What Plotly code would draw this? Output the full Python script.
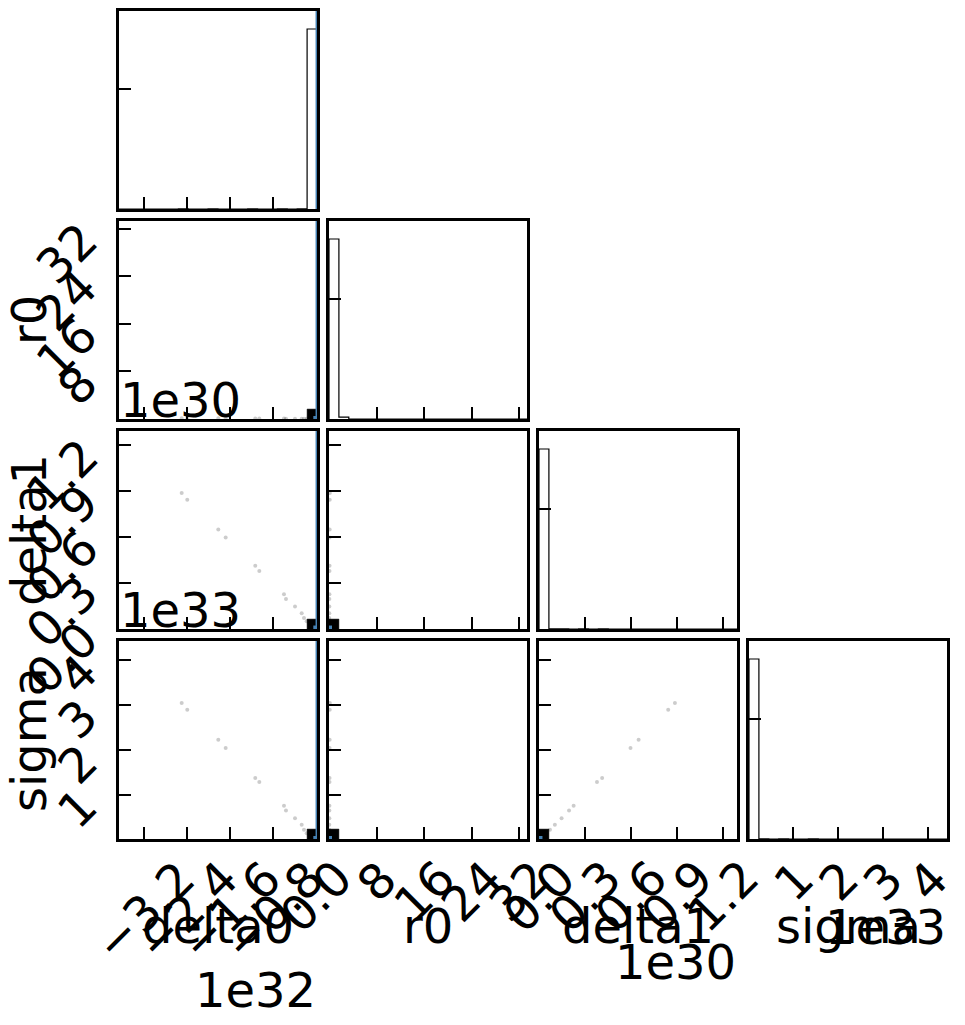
import numpy as np
import plotly.graph_objects as go

# ---------------- data (values in units of the axis offset) ----------------
labels = ["delta0", "r0", "delta1", "sigma"]
offset_text = ["1e32", "", "1e30", "1e33"]

ranges = [[-3.67, 0.013], [0.0, 33.3], [-0.003, 1.295], [0.015, 4.43]]

tick_vals = [[-3.2, -2.4, -1.6, -0.8, 0.0],
             [8, 16, 24, 32],
             [0.0, 0.3, 0.6, 0.9, 1.2],
             [1, 2, 3, 4]]
tick_text = [["−3.2", "−2.4", "−1.6", "−0.8", "0.0"],
             ["8", "16", "24", "32"],
             ["0.0", "0.3", "0.6", "0.9", "1.2"],
             ["1", "2", "3", "4"]]

# outlying samples visible as faint points
delta0_pts = [-2.504, -2.400, -1.823, -1.686, -1.135, -1.060, -0.601, -0.564, -0.396, -0.272, -0.229, -0.179]
r0_pts     = [0.14, 0.12, 0.11, 0.10, 0.09, 0.08, 0.07, 0.06, 0.06, 0.05, 0.04, 0.04]
delta1_pts = [0.888, 0.844, 0.650, 0.597, 0.411, 0.377, 0.224, 0.194, 0.145, 0.101, 0.069, 0.048]
sigma_pts  = [3.049, 2.899, 2.229, 2.044, 1.374, 1.284, 0.755, 0.650, 0.480, 0.331, 0.219, 0.145]

truths = [0.0, 0.0, 0.0, 0.015]
show_truth_line = [True, False, False, False]   # the others sit under the spines

# 1D histogram counts (20 bins over each range)
delta0_counts = [0, 0, 0, 0, 0, 0, 1, 0, 0, 1, 0, 0, 0, 1, 0, 0, 1, 0, 2, 1500]
r0_counts     = [1500, 15, 0, 0, 0, 0, 0, 0, 0, 0, 0, 0, 0, 0, 0, 0, 0, 0, 0, 0]
delta1_counts = [1500, 2, 1, 0, 1, 0, 1, 0, 0, 0, 0, 0, 0, 0, 0, 0, 0, 0, 0, 0]
sigma_counts  = [1500, 1, 0, 1, 0, 0, 1, 0, 0, 0, 0, 0, 0, 0, 0, 0, 0, 0, 0, 0]
hist_tick = [1000]

# bin index holding nearly all samples (filled black in 2D panels)
mode_bins = [19, 0, 0, 0]

samples = [delta0_pts, r0_pts, delta1_pts, sigma_pts]
counts = [delta0_counts, r0_counts, delta1_counts, sigma_counts]

# ---------------- layout helpers ----------------
OFF = 8                      # page body margin
W, H = 965 - 2 * OFF, 1025 - 2 * OFF
K = 4
LEFT, TOP, SIZE, STEP = 119, 11, 198, 210     # in reference pixels
FONT = "DejaVu Sans"
TICK_FS = 48
LAB_FS = 48
BLUE = "#4682b4"


def fx(p):      # reference x pixel -> paper
    return (p - OFF) / W


def fy(p):      # reference y pixel -> paper
    return 1 - (p - OFF) / H


def px_left(j):
    return LEFT + j * STEP


def px_top(i):
    return TOP + i * STEP


def xdom(j):
    return [fx(px_left(j)), fx(px_left(j) + SIZE)]


def ydom(i):
    return [fy(px_top(i) + SIZE), fy(px_top(i))]


def edges(k):
    return np.linspace(ranges[k][0], ranges[k][1], len(counts[k]) + 1)


fig = go.Figure()
layout = dict(width=W, height=H, margin=dict(l=0, r=0, t=0, b=0),
              paper_bgcolor="white", plot_bgcolor="white", showlegend=False)
annotations = []

axis_style = dict(showline=True, mirror=True, linewidth=2.5, linecolor="black",
                  ticks="inside", ticklen=12, tickwidth=1.6, tickcolor="black",
                  showticklabels=False, showgrid=False, zeroline=False, fixedrange=True)


def txt(size):
    return dict(family=FONT, size=size, color="black")


for i in range(K):
    for j in range(i + 1):
        n = i * K + j + 1
        xa = "x" if n == 1 else f"x{n}"
        ya = "y" if n == 1 else f"y{n}"
        xkey = "xaxis" if n == 1 else f"xaxis{n}"
        ykey = "yaxis" if n == 1 else f"yaxis{n}"
        layout[xkey] = dict(domain=xdom(j), range=ranges[j], tickvals=tick_vals[j],
                            anchor=ya, **axis_style)
        if i == j:
            e = edges(j)
            c = counts[j]
            ymax = 1.1 * max(c)
            layout[ykey] = dict(domain=ydom(i), range=[0, ymax], tickvals=hist_tick,
                                anchor=xa, **axis_style)
            xs = np.concatenate([[e[0]], e[:-1], [e[-1], e[-1]]])
            ys = np.concatenate([[0], c, [c[-1], 0]])
            fig.add_trace(go.Scatter(x=xs, y=ys, mode="lines",
                                     line=dict(color="black", width=1.2, shape="hv"),
                                     xaxis=xa, yaxis=ya, hoverinfo="skip"))
            if show_truth_line[j]:
                fig.add_trace(go.Scatter(x=[truths[j], truths[j]], y=[0, ymax], mode="lines",
                                         line=dict(color=BLUE, width=1.5), xaxis=xa, yaxis=ya,
                                         hoverinfo="skip"))
        else:
            layout[ykey] = dict(domain=ydom(i), range=ranges[i], tickvals=tick_vals[i],
                                anchor=xa, **axis_style)
            fig.add_trace(go.Scatter(x=samples[j], y=samples[i], mode="markers",
                                     marker=dict(size=4, color="rgba(0,0,0,0.2)"),
                                     xaxis=xa, yaxis=ya, hoverinfo="skip"))
            ex, ey = edges(j), edges(i)
            bx, by = mode_bins[j], mode_bins[i]
            fig.add_trace(go.Scatter(x=[ex[bx], ex[bx + 1], ex[bx + 1], ex[bx], ex[bx]],
                                     y=[ey[by], ey[by], ey[by + 1], ey[by + 1], ey[by]],
                                     mode="lines", fill="toself", fillcolor="black",
                                     line=dict(color="black", width=0.5), xaxis=xa, yaxis=ya,
                                     hoverinfo="skip"))
            if show_truth_line[j]:
                fig.add_trace(go.Scatter(x=[truths[j], truths[j]], y=ranges[i], mode="lines",
                                         line=dict(color=BLUE, width=1.5), xaxis=xa, yaxis=ya,
                                         hoverinfo="skip"))
            if show_truth_line[i]:
                fig.add_trace(go.Scatter(x=ranges[j], y=[truths[i], truths[i]], mode="lines",
                                         line=dict(color=BLUE, width=1.5), xaxis=xa, yaxis=ya,
                                         hoverinfo="skip"))
            fig.add_trace(go.Scatter(x=[truths[j]], y=[truths[i]], mode="markers",
                                     marker=dict(symbol="square", size=6, color=BLUE),
                                     xaxis=xa, yaxis=ya, hoverinfo="skip"))

        # x tick labels + x labels on the bottom row
        if i == K - 1:
            for v, t in zip(tick_vals[j], tick_text[j]):
                annotations.append(dict(x=v, xref=xa, y=ydom(i)[0], yref="paper",
                                        xanchor="center", yanchor="top", yshift=-8,
                                        text=t, textangle=-45, showarrow=False, font=txt(TICK_FS)))
            annotations.append(dict(x=fx(px_left(j) + SIZE / 2), xref="paper",
                                    y=fy(px_top(i) + SIZE + 57), yref="paper",
                                    xanchor="center", yanchor="top", text=labels[j],
                                    showarrow=False, font=txt(LAB_FS)))
        # y tick labels + y labels on the left column
        if j == 0 and i > 0:
            for v, t in zip(tick_vals[i], tick_text[i]):
                annotations.append(dict(x=xdom(0)[0], xref="paper", y=v, yref=ya,
                                        xanchor="right", yanchor="top", xshift=-8, yshift=20,
                                        text=t, textangle=-45, showarrow=False, font=txt(TICK_FS)))
            annotations.append(dict(x=fx(59), xref="paper",
                                    y=fy(px_top(i) + SIZE / 2), yref="paper",
                                    xanchor="right", yanchor="middle", text=labels[i], textangle=-90,
                                    showarrow=False, font=txt(LAB_FS)))
            if offset_text[i]:
                annotations.append(dict(x=fx(LEFT - 1), xref="paper", y=fy(px_top(i) - 1), yref="paper",
                                        xanchor="left", yanchor="bottom", text=offset_text[i],
                                        showarrow=False, font=txt(LAB_FS)))

# x offset texts below the bottom-row tick labels
x_offset_top = [960, None, 932, 897]
for j in range(K):
    if offset_text[j]:
        annotations.append(dict(x=fx(px_left(j) + SIZE + 1), xref="paper", y=fy(x_offset_top[j]),
                                yref="paper", xanchor="right", yanchor="top", text=offset_text[j],
                                showarrow=False, font=txt(LAB_FS)))

layout["annotations"] = annotations
fig.update_layout(**layout)
fig.write_html("out.html")
